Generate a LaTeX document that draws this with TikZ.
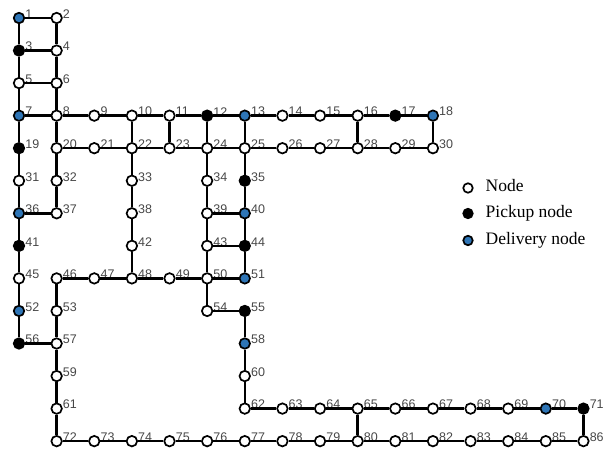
\documentclass[tikz,border=0pt]{standalone}
\usepackage{fontspec}
\newfontfamily\labfont{Liberation Sans}
\newfontfamily\legfont{Liberation Serif}
\definecolor{delblue}{HTML}{2E75B6}
\begin{document}
\begin{tikzpicture}[x=1pt,y=-1pt,
  nd/.style={circle,draw=black,line width=1.7pt,minimum size=10.5pt,inner sep=0pt,fill=white,label distance=1.2pt},
  n/.style={nd},
  p/.style={nd,fill=black},
  d/.style={nd,fill=delblue},
  lab/.style={font=\labfont\fontsize{12.5}{13}\selectfont,text=black!72,inner sep=0pt,yshift=4pt},
  edge/.style={line width=2.5pt,black},
  legdot/.style={circle,draw=black,line width=1.7pt,minimum size=9.5pt,inner sep=0pt},
  legtxt/.style={font=\legfont\fontsize{17.5}{18}\selectfont,anchor=base west,inner sep=0pt}]
\useasboundingbox (0,0) rectangle (605,454);
\foreach \k/\c/\r/\t in {1/0/0/d,2/1/0/n,3/0/1/p,4/1/1/n,5/0/2/n,6/1/2/n,7/0/3/d,8/1/3/n,9/2/3/n,10/3/3/n,11/4/3/n,12/5/3/p,13/6/3/d,14/7/3/n,15/8/3/n,16/9/3/n,17/10/3/p,18/11/3/d,
19/0/4/p,20/1/4/n,21/2/4/n,22/3/4/n,23/4/4/n,24/5/4/n,25/6/4/n,26/7/4/n,27/8/4/n,28/9/4/n,29/10/4/n,30/11/4/n,
31/0/5/n,32/1/5/n,33/3/5/n,34/5/5/n,35/6/5/p,
36/0/6/d,37/1/6/n,38/3/6/n,39/5/6/n,40/6/6/d,
41/0/7/p,42/3/7/n,43/5/7/n,44/6/7/p,
45/0/8/n,46/1/8/n,47/2/8/n,48/3/8/n,49/4/8/n,50/5/8/n,51/6/8/d,
52/0/9/d,53/1/9/n,54/5/9/n,55/6/9/p,
56/0/10/p,57/1/10/n,58/6/10/d,
59/1/11/n,60/6/11/n,
61/1/12/n,62/6/12/n,63/7/12/n,64/8/12/n,65/9/12/n,66/10/12/n,67/11/12/n,68/12/12/n,69/13/12/n,70/14/12/d,71/15/12/p,
72/1/13/n,73/2/13/n,74/3/13/n,75/4/13/n,76/5/13/n,77/6/13/n,78/7/13/n,79/8/13/n,80/9/13/n,81/10/13/n,82/11/13/n,83/12/13/n,84/13/13/n,85/14/13/n,86/15/13/n}
  \node[\t,label={[lab]0:\k}] (n\k) at ({19+37.63*\c},{18+32.55*\r}) {};
\foreach \a/\b in {1/2,1/3,2/4,3/4,3/5,4/6,5/6,5/7,6/8,7/8,8/9,9/10,10/11,11/12,12/13,13/14,14/15,15/16,16/17,17/18,18/30,
7/19,8/20,10/22,11/23,12/24,13/25,16/28,
20/21,21/22,22/23,23/24,24/25,25/26,26/27,27/28,28/29,29/30,
19/31,31/36,36/41,41/45,45/52,52/56,20/32,32/37,36/37,
22/33,33/38,38/42,42/48,24/34,34/39,39/43,43/50,50/54,25/35,35/40,40/44,44/51,
39/40,43/44,50/51,48/49,49/50,46/47,47/48,
46/53,53/57,56/57,57/59,59/61,61/72,
54/55,55/58,58/60,60/62,62/63,63/64,64/65,65/66,66/67,67/68,68/69,69/70,70/71,71/86,65/80,
72/73,73/74,74/75,75/76,76/77,77/78,78/79,79/80,80/81,81/82,82/83,83/84,84/85,85/86}
  \draw[edge] (n\a) -- (n\b);
% legend
\node[legdot,fill=white] (lg1) at (468,188) {};
\node[legdot,fill=black] (lg2) at (468,213.5) {};
\node[legdot,fill=delblue] (lg3) at (468,240.5) {};
\node[legtxt] (lt1) at (485.5,191.5) {Node};
\node[legtxt] (lt2) at (485.5,217.5) {Pickup node};
\node[legtxt] (lt3) at (485.5,244.5) {Delivery node};
\end{tikzpicture}
\end{document}
